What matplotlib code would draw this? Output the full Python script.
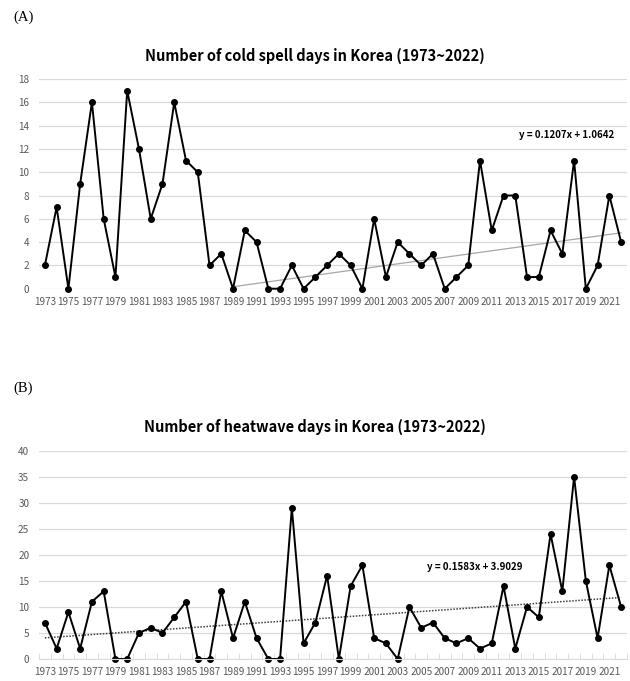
import numpy as np
import matplotlib.pyplot as plt

plt.rcParams['font.family'] = ['Noto Sans CJK KR', 'DejaVu Sans']

years = np.arange(1973, 2023)

# cold spell days (A)
cold_days = [2, 7, 0, 9, 16, 6, 1, 17, 12, 6, 9, 16, 11, 10, 2, 3, 0, 5, 4, 0,
             0, 2, 0, 1, 2, 3, 2, 0, 6, 1, 4, 3, 2, 3, 0, 1, 2, 11, 5, 8,
             8, 1, 1, 5, 3, 11, 0, 2, 8, 4]
cold_trend_years = [1989, 2022]
cold_trend_vals = [0.17, 4.8]

# heatwave days (B)
heat_days = [7, 2, 9, 2, 11, 13, 0, 0, 5, 6, 5, 8, 11, 0, 0, 13, 4, 11, 4, 0,
             0, 29, 3, 7, 16, 0, 14, 18, 4, 3, 0, 10, 6, 7, 4, 3, 4, 2, 3, 14,
             2, 10, 8, 24, 13, 35, 15, 4, 18, 10]
heat_slope, heat_icpt = 0.1583, 3.9029

W, H = 630, 681
fig = plt.figure(figsize=(W / 100, H / 100), dpi=100)

grid_c = '#d9d9d9'
lab_c = '#595959'


def style_axes(ax, ymax, ystep):
    ax.set_xlim(1972.5, 2022.5)
    ax.set_ylim(0, ymax)
    ax.set_yticks(np.arange(0, ymax + 1, ystep))
    ax.set_xticks(years[::2])
    ax.set_xticklabels([str(y) for y in years[::2]])
    ax.grid(axis='y', color=grid_c, lw=0.9)
    ax.set_axisbelow(True)
    for s in ['top', 'right', 'left', 'bottom']:
        ax.spines[s].set_visible(False)
    ax.tick_params(axis='y', length=0, labelsize=7.2, colors=lab_c, pad=7)
    ax.tick_params(axis='x', length=0, labelsize=7.2, colors=lab_c, pad=6)


# ---- (A) cold spell
ax1 = fig.add_axes([39 / W, 1 - 288.7 / H, 588 / W, 209.7 / H])
style_axes(ax1, 18, 2)
ax1.plot(cold_trend_years, cold_trend_vals, color='#a6a6a6', lw=0.9)
ax1.plot(years, cold_days, color='black', lw=1.4, marker='o', ms=4, clip_on=False)
ax1.text(0.978, 0.734, 'y = 0.1207x + 1.0642', transform=ax1.transAxes,
         ha='right', va='center', fontsize=7, fontweight='bold')
fig.text(315 / W, 1 - 56 / H, 'Number of cold spell days in Korea (1973~2022)',
         ha='center', va='center', fontsize=10.5, fontweight='bold')
fig.text(13 / W, 1 - 17 / H, '(A)', ha='left', va='center', fontsize=10.5,
         family='Liberation Serif')

# ---- (B) heatwave
ax2 = fig.add_axes([39 / W, 1 - 659 / H, 588 / W, 208.3 / H])
style_axes(ax2, 40, 5)
ax2.spines['bottom'].set_visible(True)
ax2.spines['bottom'].set_color(grid_c)
ax2.set_xticks(np.arange(1972.5, 2023, 1), minor=True)
ax2.tick_params(axis='x', which='minor', length=4, direction='in', color=grid_c)
idx = np.arange(1, len(years) + 1)
ax2.plot(years, heat_slope * idx + heat_icpt, color='#404040', lw=1.1, ls=(0, (1, 1)))
ax2.plot(years, heat_days, color='black', lw=1.4, marker='o', ms=4, clip_on=False)
ax2.text(0.741, 0.442, 'y = 0.1583x + 3.9029', transform=ax2.transAxes,
         ha='center', va='center', fontsize=7, fontweight='bold')
fig.text(315 / W, 1 - 427 / H, 'Number of heatwave days in Korea (1973~2022)',
         ha='center', va='center', fontsize=10.5, fontweight='bold')
fig.text(13 / W, 1 - 388 / H, '(B)', ha='left', va='center', fontsize=10.5,
         family='Liberation Serif')

fig.savefig('out.png', dpi=100)
